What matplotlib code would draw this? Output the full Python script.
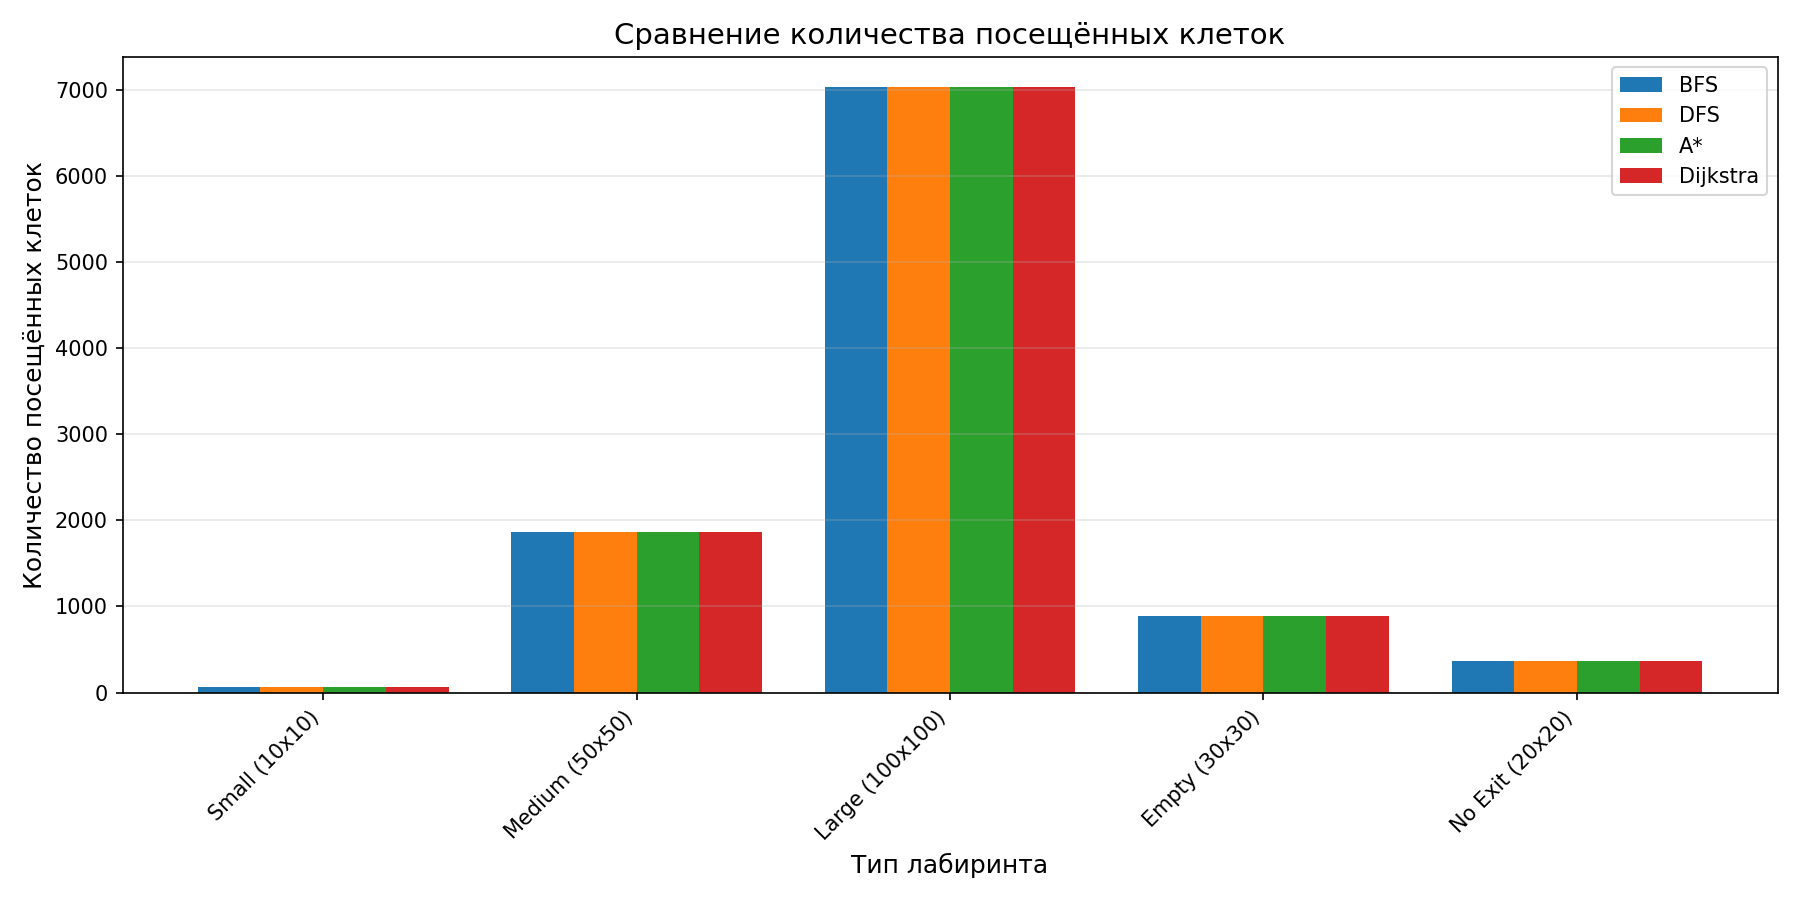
import numpy as np
import matplotlib.pyplot as plt

# Visited cells per maze type (same for every algorithm here)
mazes = ['Small (10x10)', 'Medium (50x50)', 'Large (100x100)', 'Empty (30x30)', 'No Exit (20x20)']
algorithms = ['BFS', 'DFS', 'A*', 'Dijkstra']
bfs_visited = [66, 1860, 7028, 895, 370]
dfs_visited = [66, 1860, 7028, 895, 370]
astar_visited = [66, 1860, 7028, 895, 370]
dijkstra_visited = [66, 1860, 7028, 895, 370]

series = [bfs_visited, dfs_visited, astar_visited, dijkstra_visited]

x = np.arange(len(mazes))
width = 0.2

fig, ax = plt.subplots(figsize=(12, 6), dpi=150)
for i, (name, vals) in enumerate(zip(algorithms, series)):
    ax.bar(x + (i - 1.5) * width, vals, width, label=name)

ax.set_title('Сравнение количества посещённых клеток', fontsize=14)
ax.set_xlabel('Тип лабиринта', fontsize=12)
ax.set_ylabel('Количество посещённых клеток', fontsize=12)
ax.set_xticks(x)
ax.set_xticklabels(mazes, rotation=45, ha='right')
ax.legend()
ax.grid(True, axis='y', alpha=0.3)

plt.tight_layout()
plt.savefig('out.png', dpi=150)
